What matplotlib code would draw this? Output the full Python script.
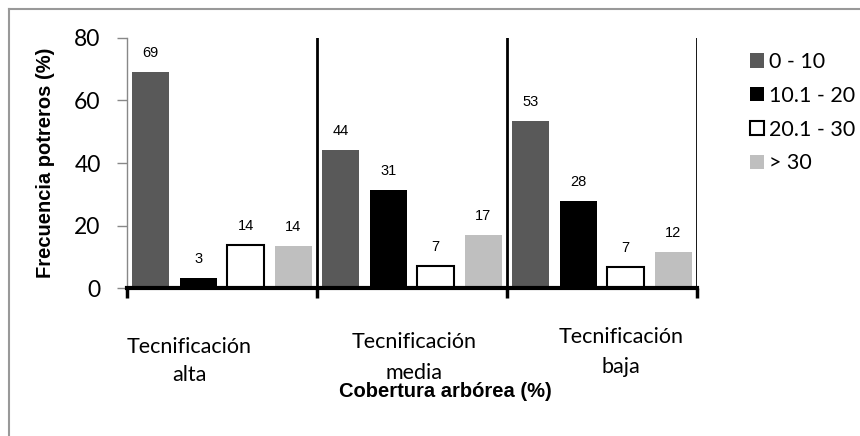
import matplotlib
matplotlib.use("Agg")
import matplotlib.pyplot as plt
from matplotlib.lines import Line2D
from matplotlib.patches import Patch
import numpy as np

categories = ["Tecnificación\nalta", "Tecnificación\nmedia", "Tecnificación\nbaja"]
series_names = ["0 - 10", "10.1 - 20", "20.1 - 30", "> 30"]
values = {
    "0 - 10": [69.1, 44.2, 53.4],
    "10.1 - 20": [3.3, 31.4, 27.8],
    "20.1 - 30": [13.8, 7.0, 6.8],
    "> 30": [13.5, 17.0, 11.6],
}
value_labels = {
    "0 - 10": ["69", "44", "53"],
    "10.1 - 20": ["3", "31", "28"],
    "20.1 - 30": ["14", "7", "7"],
    "> 30": ["14", "17", "12"],
}
yticks = [0, 20, 40, 60, 80]

colors = ["#595959", "#000000", "#ffffff", "#bfbfbf"]
edges = ["none", "none", "#000000", "none"]

W, H = 860, 436
fig = plt.figure(figsize=(W / 100, H / 100), dpi=100)

def fx(px):
    return px / W

def fy(py):
    return 1 - py / H

ax = fig.add_axes([fx(127), fy(288), fx(697) - fx(127), fy(38) - fy(288)])

nser = len(series_names)
bw = 0.195
for j, name in enumerate(series_names):
    xs = np.arange(len(categories)) + (j + 0.5) / nser
    ax.bar(xs, values[name], width=bw, color=colors[j],
           edgecolor=edges[j], linewidth=1.5 if edges[j] != "none" else 0,
           label=name, zorder=2)
    for x, v, lab in zip(xs, values[name], value_labels[name]):
        ax.text(x, v + 6, lab, ha="center", va="center", fontsize=10.5,
                family="Liberation Sans", color="#000000")

ax.set_xlim(0, len(categories))
ax.set_ylim(0, 80)
ax.set_yticks(yticks)
ax.set_yticklabels([str(t) for t in yticks], family="Lato", fontsize=16.5)
ax.tick_params(axis="y", length=7, width=1, color="#888888", pad=12)
ax.set_xticks(np.arange(len(categories) + 1))
ax.set_xticklabels([])
ax.tick_params(axis="x", length=7, width=2.5, color="#000000", direction="out")

for s in ["top", "right"]:
    ax.spines[s].set_visible(False)
ax.spines["left"].set_color("#888888")
ax.spines["left"].set_linewidth(1)
ax.spines["bottom"].set_color("#000000")
ax.spines["bottom"].set_linewidth(3)

for k in range(1, len(categories) + 1):
    ax.axvline(k, ymin=0, ymax=1, color="#000000", linewidth=2, zorder=3)

ax.set_ylabel("Frecuencia potreros (%)", family="Liberation Sans",
              fontweight="bold", fontsize=14.5)
ax.yaxis.set_label_coords((55 - 127) / (697 - 127), 0.5)

# category labels (staggered as in the reference)
cat_pos = [(189, 347, 375), (414, 342, 373), (621, 337, 367)]
for cat, (cx, y1, y2) in zip(categories, cat_pos):
    l1, l2 = cat.split("\n")
    fig.text(fx(cx), fy(y1), l1, ha="center", va="center", family="Lato", fontsize=15.5)
    fig.text(fx(cx), fy(y2), l2, ha="center", va="center", family="Lato", fontsize=15.5)

fig.text(fx(445), fy(391), "Cobertura arbórea (%)", ha="center", va="center",
         family="Liberation Sans", fontweight="bold", fontsize=14.5)

handles = [Patch(facecolor=colors[j], edgecolor=("#000000" if edges[j] != "none" else colors[j]),
                 linewidth=1.5 if edges[j] != "none" else 0) for j in range(nser)]
leg = fig.legend(handles, series_names, loc="upper left",
                 bbox_to_anchor=(fx(750), fy(52)), frameon=False,
                 prop={"family": "Lato", "size": 15.5}, handlelength=0.65,
                 handleheight=0.65, handletextpad=0.25, labelspacing=0.64,
                 borderaxespad=0, borderpad=0)

# outer chart border (left and top edges visible)
fig.add_artist(Line2D([fx(9), fx(9)], [0, fy(9)], color="#999999", linewidth=1.5))
fig.add_artist(Line2D([fx(9), 1], [fy(9), fy(9)], color="#999999", linewidth=1.5))

fig.savefig("out.png", dpi=100)
